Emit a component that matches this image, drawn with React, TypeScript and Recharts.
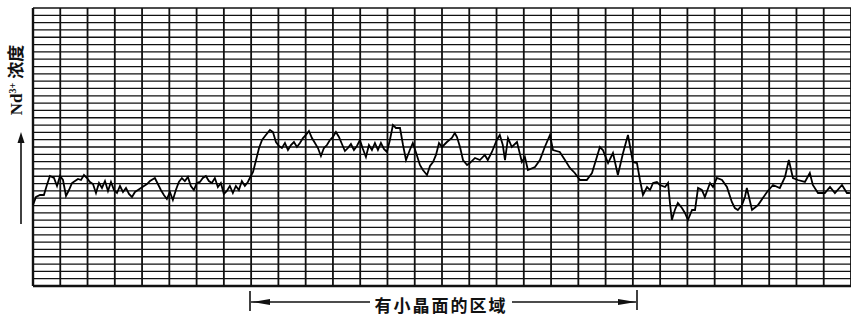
import React from "react";
import { LineChart, Line, XAxis, YAxis, CartesianGrid, ReferenceLine } from "recharts";

// chart-paper divisions: 30 columns across, 38 rows up
const columnTicks = [0, 1, 2, 3, 4, 5, 6, 7, 8, 9, 10, 11, 12, 13, 14, 15, 16, 17, 18, 19, 20, 21, 22, 23, 24, 25, 26, 27, 28, 29, 30];
const rowTicks = [0, 1, 2, 3, 4, 5, 6, 7, 8, 9, 10, 11, 12, 13, 14, 15, 16, 17, 18, 19, 20, 21, 22, 23, 24, 25, 26, 27, 28, 29, 30, 31, 32, 33, 34, 35, 36, 37, 38];

// [scan position, Nd3+ level] in chart divisions
const baseLeft: [number, number][] = [
  [0, 11.07], [0.11, 12.17], [0.26, 12.44], [0.4, 12.44], [0.51, 13.81], [0.62, 15.04], [0.77, 14.76], [0.88, 13.67],
  [0.99, 15.04], [1.1, 14.49], [1.21, 12.3], [1.32, 13.12], [1.43, 14.08], [1.54, 14.35], [1.65, 14.63], [1.76, 14.49],
  [1.87, 15.17], [1.98, 14.76], [2.09, 14.22], [2.2, 13.94], [2.31, 12.71], [2.42, 14.08], [2.53, 13.4], [2.64, 14.35],
  [2.75, 12.99], [2.86, 14.22], [2.97, 13.12], [3.08, 12.71], [3.19, 13.67], [3.3, 12.85], [3.41, 13.4], [3.52, 12.58],
  [3.63, 12.17], [3.74, 12.85], [3.85, 13.12], [3.96, 13.4], [4.07, 13.67], [4.18, 13.94], [4.29, 14.35], [4.47, 14.76],
  [4.58, 13.94], [4.69, 13.12], [4.8, 12.44], [4.91, 11.89], [5.02, 12.85], [5.13, 11.76], [5.24, 13.12], [5.35, 14.22],
  [5.46, 14.76], [5.57, 14.35], [5.68, 14.9], [5.79, 13.67], [5.9, 13.12], [6.01, 14.08], [6.12, 14.22], [6.23, 14.76],
  [6.34, 15.04], [6.45, 14.35], [6.56, 14.08], [6.67, 14.76], [6.78, 13.53], [6.89, 14.08], [7.0, 12.58], [7.11, 12.99],
  [7.22, 13.67], [7.33, 12.71], [7.44, 13.67], [7.55, 13.12], [7.66, 14.35], [7.77, 13.67], [7.88, 14.22], [7.99, 15.04],
];

const facetZone: [number, number][] = [
  [8.07, 15.58], [8.18, 17.22], [8.29, 18.86], [8.4, 19.96], [8.54, 20.64], [8.69, 21.33], [8.8, 21.05], [8.91, 19.68],
  [9.02, 19.14], [9.13, 18.86], [9.24, 19.55], [9.35, 18.59], [9.46, 19.27], [9.57, 19.68], [9.68, 19.0], [9.79, 19.55],
  [9.9, 20.23], [10.01, 20.64], [10.12, 21.19], [10.23, 20.23], [10.34, 19.55], [10.45, 18.86], [10.56, 17.77], [10.67, 18.86],
  [10.78, 19.27], [10.89, 19.96], [11.0, 20.37], [11.11, 21.05], [11.22, 20.37], [11.33, 19.41], [11.44, 18.45], [11.55, 18.86],
  [11.66, 19.41], [11.77, 18.59], [11.88, 19.14], [11.99, 19.96], [12.1, 18.73], [12.21, 17.63], [12.32, 19.27], [12.43, 18.59],
  [12.54, 19.55], [12.65, 18.59], [12.76, 19.55], [12.87, 18.73], [12.98, 18.32], [13.09, 19.96], [13.2, 22.01], [13.31, 21.6],
  [13.46, 21.6], [13.57, 19.27], [13.68, 17.22], [13.82, 18.59], [13.93, 19.55], [14.04, 18.32], [14.19, 16.54], [14.3, 15.86],
  [14.45, 15.17], [14.56, 16.4], [14.67, 16.95], [14.78, 17.91], [14.89, 19.55], [15.0, 19.0], [15.18, 19.68], [15.36, 20.23],
  [15.47, 20.92], [15.55, 20.37], [15.66, 19.0], [15.77, 17.22], [15.92, 16.54], [16.02, 16.81], [16.21, 17.5], [16.39, 17.22],
  [16.57, 17.91], [16.68, 17.22], [16.83, 18.32], [17.01, 19.96], [17.12, 20.64], [17.23, 19.27], [17.31, 17.22], [17.42, 20.23],
  [17.56, 19.0], [17.75, 19.68], [17.93, 16.95], [18.04, 17.63], [18.15, 15.86], [18.41, 16.27], [18.59, 17.22], [18.77, 19.0],
  [18.96, 20.64], [19.07, 18.59], [19.32, 18.32], [19.51, 17.22], [19.69, 16.13], [19.87, 15.45], [20.06, 14.49], [20.31, 14.49],
  [20.5, 15.45], [20.68, 17.63], [20.79, 19.0], [20.9, 18.59], [21.09, 16.81], [21.27, 18.18], [21.45, 15.17], [21.64, 18.18],
  [21.82, 20.64], [22.0, 16.95], [22.15, 16.81],
];

const baseRight: [number, number][] = [
  [22.26, 14.49], [22.37, 12.44], [22.52, 13.53], [22.63, 13.12], [22.74, 14.08], [22.88, 14.22], [22.99, 13.81], [23.18, 13.53],
  [23.29, 14.08], [23.36, 11.35], [23.43, 9.02], [23.54, 10.39], [23.65, 11.35], [23.8, 10.66], [23.91, 9.98], [24.02, 9.02],
  [24.17, 10.39], [24.28, 10.39], [24.39, 13.4], [24.53, 13.12], [24.64, 12.17], [24.83, 14.08], [24.94, 13.53], [25.08, 14.76],
  [25.27, 14.49], [25.45, 13.53], [25.63, 11.48], [25.74, 10.66], [25.85, 10.39], [26.0, 11.07], [26.11, 12.17], [26.18, 13.4],
  [26.37, 10.39], [26.59, 11.07], [26.92, 12.85], [27.14, 13.81], [27.39, 13.4], [27.58, 14.9], [27.72, 17.22], [27.87, 14.76],
  [28.05, 14.49], [28.31, 14.22], [28.49, 15.45], [28.6, 13.81], [28.79, 12.71], [29.04, 12.71], [29.23, 13.53], [29.41, 12.71],
  [29.67, 13.81], [29.85, 12.71], [29.96, 12.71],
];

const trace = [...baseLeft, ...facetZone, ...baseRight].map(([pos, level]) => ({ pos, level }));

const INK = "#111";
const CJK = "'Liberation Serif', 'Noto Sans CJK SC', serif";

export default function App() {
  return (
    <div style={{ position: "absolute", left: 0, top: 0, width: 851, height: 320, background: "#fff" }}>
      <LineChart width={851} height={320} data={trace} margin={{ top: 8, right: 0, bottom: 34, left: 33 }}>
        <XAxis dataKey="pos" type="number" domain={[0, 30]} ticks={columnTicks} interval={0} hide />
        <YAxis type="number" domain={[0, 38]} ticks={rowTicks} interval={0} hide />
        <CartesianGrid horizontal vertical={false} stroke={INK} strokeWidth={1.3} />
        <CartesianGrid horizontal={false} vertical stroke={INK} strokeWidth={1.8} />
        <ReferenceLine x={0} stroke={INK} strokeWidth={2.4} />
        <ReferenceLine y={0} stroke={INK} strokeWidth={2.6} />
        <Line
          type="linear"
          dataKey="level"
          stroke="#000"
          strokeWidth={1.8}
          dot={false}
          isAnimationActive={false}
        />
      </LineChart>
      <svg width={851} height={320} style={{ position: "absolute", left: 0, top: 0, pointerEvents: "none" }}>
        {/* y-axis caption with upward arrow */}
        <text
          transform="translate(22,80) rotate(-90)"
          textAnchor="middle"
          fontFamily={CJK}
          fontWeight="bold"
          fontSize={17}
          fill={INK}
        >
          Nd<tspan dy={-6} fontSize={10}>3+</tspan>
          <tspan dy={6}> 浓度</tspan>
        </text>
        <line x1={21} y1={224} x2={21} y2={140} stroke={INK} strokeWidth={1.6} />
        <path d="M21,132 L17.5,143 L24.5,143 Z" fill={INK} />

        {/* facet region bracket */}
        <line x1={250} y1={291} x2={250} y2={311} stroke={INK} strokeWidth={1.6} />
        <line x1={637} y1={290} x2={637} y2={310} stroke={INK} strokeWidth={1.6} />
        <line x1={251} y1={302} x2={370} y2={302} stroke={INK} strokeWidth={1.4} />
        <line x1={512} y1={302} x2={636} y2={302} stroke={INK} strokeWidth={1.4} />
        <path d="M252,302 L270,299 L270,305 Z" fill={INK} />
        <path d="M636,302 L618,299 L618,305 Z" fill={INK} />
        <text x={441} y={312} textAnchor="middle" fontFamily={CJK} fontWeight="bold" fontSize={17} letterSpacing={2} fill={INK}>
          有小晶面的区域
        </text>
      </svg>
    </div>
  );
}
